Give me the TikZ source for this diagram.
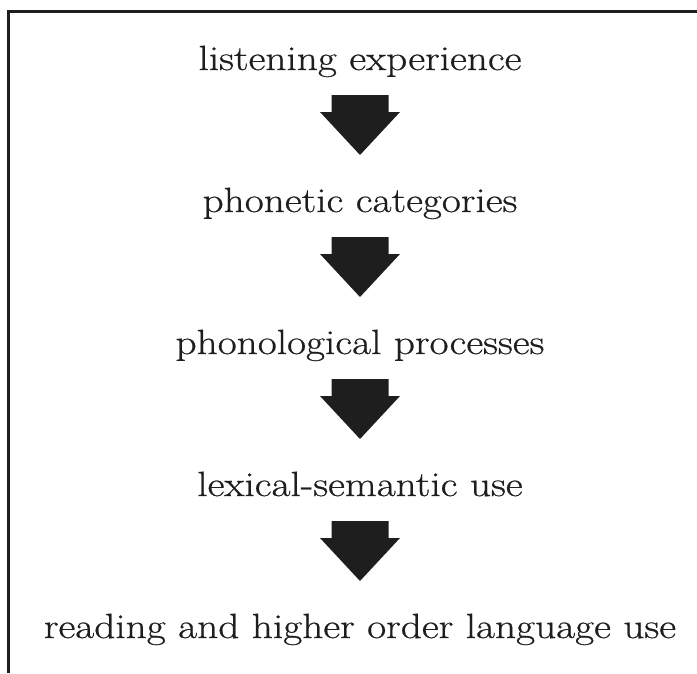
\documentclass[tikz,border=0pt]{standalone}
\usepackage{fontspec}
\setmainfont{Latin Modern Roman}[FakeStretch=1.18, FakeBold=0.6]
\usetikzlibrary{calc}
\definecolor{ink}{HTML}{1E1E1E}
\tikzset{
  lbl/.style={anchor=base, inner sep=0pt, text=ink, font=\fontsize{35}{42}\selectfont},
  frame/.style={draw=ink, line width=3pt},
  blk/.style={fill=ink, draw=none}
}
\newcommand\flowarrow[2]{% name, top coordinate (x,y)
  \coordinate (#1) at (#2);
  \fill[blk] ($(#1)+(-28.5pt,0)$) -- ($(#1)+(28.5pt,0)$) -- ($(#1)+(28.5pt,-17pt)$) -- ($(#1)+(40pt,-17pt)$) -- ($(#1)+(0,-60pt)$) -- ($(#1)+(-40pt,-17pt)$) -- ($(#1)+(-28.5pt,-17pt)$) -- cycle;
}
\begin{document}
\begin{tikzpicture}[x=1pt,y=1pt]
\useasboundingbox (0,0) rectangle (697,-673);
\coordinate (fbot) at (8,-673);
\coordinate (fcorner) at (8,-11);
\coordinate (fright) at (697,-11);
\draw[frame] (fbot) -- (fcorner) -- (fright);
\node[lbl] (t1) at (360,-70) {listening experience};
\node[lbl] (t2) at (360,-212) {phonetic categories};
\node[lbl] (t3) at (360,-354) {phonological processes};
\node[lbl] (t4) at (360,-496) {lexical-semantic use};
\node[lbl] (t5) at (360,-638) {reading and higher order language use};
\flowarrow{a1}{360,-95}
\flowarrow{a2}{360,-237}
\flowarrow{a3}{360,-379}
\flowarrow{a4}{360,-521}
\end{tikzpicture}
\end{document}
